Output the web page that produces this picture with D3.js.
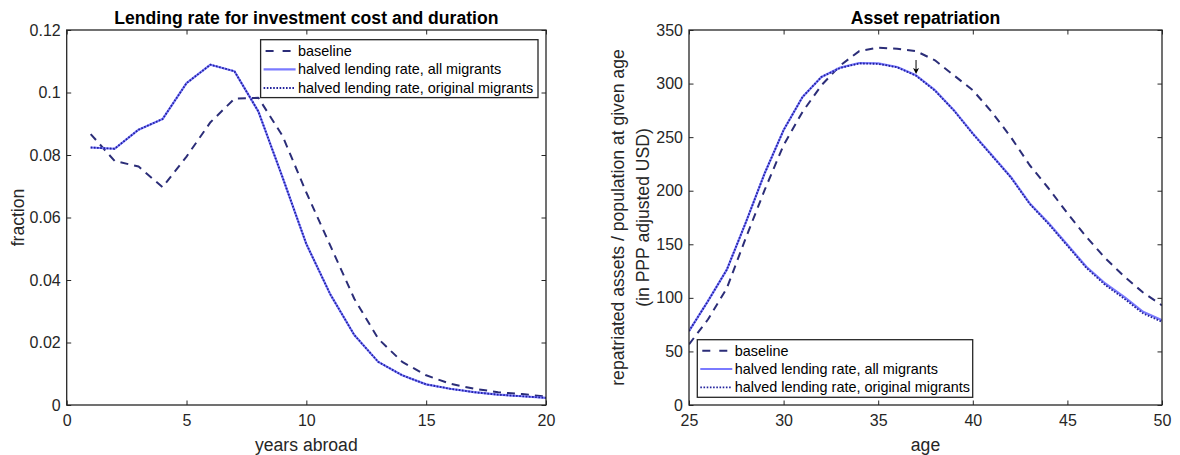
<!DOCTYPE html>
<html>
<head>
<meta charset="utf-8">
<script src="https://cdn.jsdelivr.net/npm/d3@7"></script>
<style>
  body { margin: 0; background: #fff; }
  svg text { font-family: "Liberation Sans", Arial, Helvetica, sans-serif; }
</style>
</head>
<body>
<svg id="fig" width="1180" height="455"></svg>
<script>
// ---- Lending rate panel ----
const yearsAbroad = [1, 2, 3, 4, 5, 6, 7, 8, 9, 10, 11, 12, 13, 14, 15, 16, 17, 18, 19, 20];
const lendBaseline = [0.0867, 0.0781, 0.0763, 0.0697, 0.0795, 0.0905, 0.0980, 0.0983, 0.0862, 0.0680,
                      0.0510, 0.0340, 0.0212, 0.0138, 0.0095, 0.0068, 0.0052, 0.0041, 0.0035, 0.0027];
const lendHalvedAll = [0.0824, 0.0820, 0.0881, 0.0915, 0.1030, 0.1089, 0.1068, 0.0939, 0.0730, 0.0515,
                       0.0354, 0.0224, 0.0138, 0.0095, 0.0066, 0.0052, 0.0041, 0.0033, 0.0028, 0.0023];
const lendHalvedOrig = [0.0824, 0.0820, 0.0881, 0.0915, 0.1030, 0.1089, 0.1068, 0.0939, 0.0730, 0.0515,
                        0.0354, 0.0224, 0.0138, 0.0095, 0.0066, 0.0052, 0.0041, 0.0033, 0.0028, 0.0023];
const lendXTicks = [0, 5, 10, 15, 20];
const lendXTickLabels = ["0", "5", "10", "15", "20"];
const lendYTicks = [0, 0.02, 0.04, 0.06, 0.08, 0.1, 0.12];
const lendYTickLabels = ["0", "0.02", "0.04", "0.06", "0.08", "0.1", "0.12"];

// ---- Asset repatriation panel ----
const ages = [25, 26, 27, 28, 29, 30, 31, 32, 33, 34, 35, 36, 37, 38, 39, 40, 41, 42, 43, 44, 45, 46, 47, 48, 49, 50];
const repBaseline = [56.6, 79.8, 109, 155.8, 200.7, 242.6, 273.6, 298.4, 317, 330.3, 333.5, 332.6, 330.3,
                     321.7, 307.7, 293.8, 273.6, 250.3, 224, 202.3, 179, 157, 137, 120, 105, 93];
const repHalvedAll = [69, 96.9, 126.3, 170.3, 216.3, 256.6, 287.5, 306.2, 314.9, 319.2, 318.8, 315.5, 307.7,
                      293.8, 275.2, 253.5, 233.3, 213.1, 188.4, 169.8, 149.5, 129, 113.4, 100.9, 87, 79.2];
const repHalvedOrig = [69, 96.9, 126.3, 170.3, 216.3, 256.6, 287.5, 306.2, 314.6, 318.8, 318.4, 315.2, 307.3,
                       293.4, 274.8, 253, 232.8, 212.6, 187.8, 169, 148.6, 128, 112, 99.3, 85.5, 77.6];
const repXTicks = [25, 30, 35, 40, 45, 50];
const repXTickLabels = ["25", "30", "35", "40", "45", "50"];
const repYTicks = [0, 50, 100, 150, 200, 250, 300, 350];
const repYTickLabels = ["0", "50", "100", "150", "200", "250", "300", "350"];
const repArrow = { age: 37, from: 322, to: 309 };

const seriesNames = ["baseline", "halved lending rate, all migrants", "halved lending rate, original migrants"];

// line styles for the three series
const styles = [
  { stroke: "#2b2d78", width: 2, dash: "8,6" },
  { stroke: "#7a7aff", width: 2.2, dash: null },
  { stroke: "#22229c", width: 1.8, dash: "1.6,1.6" }
];

const axisColor = "#262626";
const svg = d3.select("#fig");

function drawPanel(cfg) {
  const x = d3.scaleLinear().domain(cfg.xDomain).range([cfg.left, cfg.right]);
  const y = d3.scaleLinear().domain(cfg.yDomain).range([cfg.bottom, cfg.top]);
  const g = svg.append("g");

  const clipId = "clip-" + cfg.id;
  svg.append("clipPath").attr("id", clipId)
    .append("rect")
    .attr("x", cfg.left).attr("y", cfg.top)
    .attr("width", cfg.right - cfg.left).attr("height", cfg.bottom - cfg.top);

  // series lines
  const line = d3.line().x(d => x(d[0])).y(d => y(d[1]));
  const lines = g.append("g").attr("clip-path", `url(#${clipId})`);
  cfg.series.forEach((vals, i) => {
    const st = styles[i];
    lines.append("path")
      .datum(cfg.xs.map((xv, k) => [xv, vals[k]]))
      .attr("d", line)
      .attr("fill", "none")
      .attr("stroke", st.stroke)
      .attr("stroke-width", st.width)
      .attr("stroke-dasharray", st.dash)
      .attr("stroke-linejoin", "round");
  });

  // axes with inward ticks on all four sides
  const tick = 4.5;
  const fmt = (ticks, labels) => d => labels[ticks.indexOf(d)];
  const bottomAxis = d3.axisBottom(x).tickValues(cfg.xTicks)
    .tickFormat(fmt(cfg.xTicks, cfg.xTickLabels)).tickSize(-tick).tickPadding(10);
  const leftAxis = d3.axisLeft(y).tickValues(cfg.yTicks)
    .tickFormat(fmt(cfg.yTicks, cfg.yTickLabels)).tickSize(-tick).tickPadding(6);
  const topAxis = d3.axisTop(x).tickValues(cfg.xTicks).tickFormat("").tickSize(-tick);
  const rightAxis = d3.axisRight(y).tickValues(cfg.yTicks).tickFormat("").tickSize(-tick);

  const axes = [
    [bottomAxis, `translate(0,${cfg.bottom})`],
    [leftAxis, `translate(${cfg.left},0)`],
    [topAxis, `translate(0,${cfg.top})`],
    [rightAxis, `translate(${cfg.right},0)`]
  ];
  axes.forEach(([ax, tr]) => {
    const a = g.append("g").attr("transform", tr).call(ax);
    a.select(".domain").remove();
    a.selectAll("line").attr("stroke", axisColor).attr("stroke-width", 1);
    a.selectAll("text").attr("fill", axisColor).style("font-size", "16px")
      .style("font-family", '"Liberation Sans", Arial, sans-serif');
  });

  // frame
  g.append("rect")
    .attr("x", cfg.left).attr("y", cfg.top)
    .attr("width", cfg.right - cfg.left).attr("height", cfg.bottom - cfg.top)
    .attr("fill", "none").attr("stroke", axisColor).attr("stroke-width", 1.3);

  // title
  g.append("text")
    .attr("x", (cfg.left + cfg.right) / 2).attr("y", 24)
    .attr("text-anchor", "middle")
    .attr("font-weight", "bold").attr("font-size", 17.6).attr("fill", "#000")
    .text(cfg.title);

  // x label
  g.append("text")
    .attr("x", (cfg.left + cfg.right) / 2).attr("y", 451)
    .attr("text-anchor", "middle").attr("font-size", 17.6).attr("fill", axisColor)
    .text(cfg.xLabel);

  // y label (one or more lines)
  const cy = (cfg.top + cfg.bottom) / 2;
  cfg.yLabel.forEach((txt, i) => {
    const bx = cfg.yLabelX[i];
    g.append("text")
      .attr("transform", `translate(${bx},${cy}) rotate(-90)`)
      .attr("text-anchor", "middle").attr("font-size", 17.6).attr("fill", axisColor)
      .text(txt);
  });

  // legend
  const L = cfg.legend;
  const lg = g.append("g");
  lg.append("rect")
    .attr("x", L.x0).attr("y", L.y0).attr("width", L.x1 - L.x0).attr("height", L.y1 - L.y0)
    .attr("fill", "#fff").attr("stroke", axisColor).attr("stroke-width", 1.3);
  seriesNames.forEach((name, i) => {
    const st = styles[i];
    const ry = L.rows[i];
    lg.append("line")
      .attr("x1", i === 0 ? L.x0 + 5 : L.x0 + 3).attr("x2", L.x0 + 35)
      .attr("y1", ry).attr("y2", ry)
      .attr("stroke", st.stroke).attr("stroke-width", st.width)
      .attr("stroke-dasharray", i === 0 ? "8,9" : st.dash);
    lg.append("text")
      .attr("x", L.x0 + 37.5).attr("y", ry + 5)
      .attr("font-size", 14.4).attr("fill", "#000")
      .text(name);
  });

  return { x, y, g };
}

drawPanel({
  id: "lend",
  left: 66.7, right: 546, top: 30, bottom: 405,
  xDomain: [0, 20], yDomain: [0, 0.12],
  xTicks: lendXTicks, xTickLabels: lendXTickLabels,
  yTicks: lendYTicks, yTickLabels: lendYTickLabels,
  xs: yearsAbroad,
  series: [lendBaseline, lendHalvedAll, lendHalvedOrig],
  title: "Lending rate for investment cost and duration",
  xLabel: "years abroad",
  yLabel: ["fraction"], yLabelX: [24],
  legend: { x0: 260.6, x1: 538, y0: 39.7, y1: 97.6, rows: [51, 69.4, 88] }
});

const rep = drawPanel({
  id: "rep",
  left: 689, right: 1162, top: 30, bottom: 405,
  xDomain: [25, 50], yDomain: [0, 350],
  xTicks: repXTicks, xTickLabels: repXTickLabels,
  yTicks: repYTicks, yTickLabels: repYTickLabels,
  xs: ages,
  series: [repBaseline, repHalvedAll, repHalvedOrig],
  title: "Asset repatriation",
  xLabel: "age",
  yLabel: ["repatriated assets / population at given age", "(in PPP adjusted USD)"],
  yLabelX: [624, 649],
  legend: { x0: 697.3, x1: 972.7, y0: 339.7, y1: 397.3, rows: [350.7, 369, 387.3] }
});

// small annotation arrow pointing at the curve
const ax0 = rep.x(repArrow.age), ay0 = rep.y(repArrow.from), ay1 = rep.y(repArrow.to);
rep.g.append("line")
  .attr("x1", ax0).attr("x2", ax0).attr("y1", ay0).attr("y2", ay1 - 4)
  .attr("stroke", "#000").attr("stroke-width", 1);
rep.g.append("path")
  .attr("d", `M${ax0 - 3},${ay1 - 6} L${ax0},${ay1} L${ax0 + 3},${ay1 - 6} L${ax0},${ay1 - 4.5} Z`)
  .attr("fill", "#000");
</script>
</body>
</html>
